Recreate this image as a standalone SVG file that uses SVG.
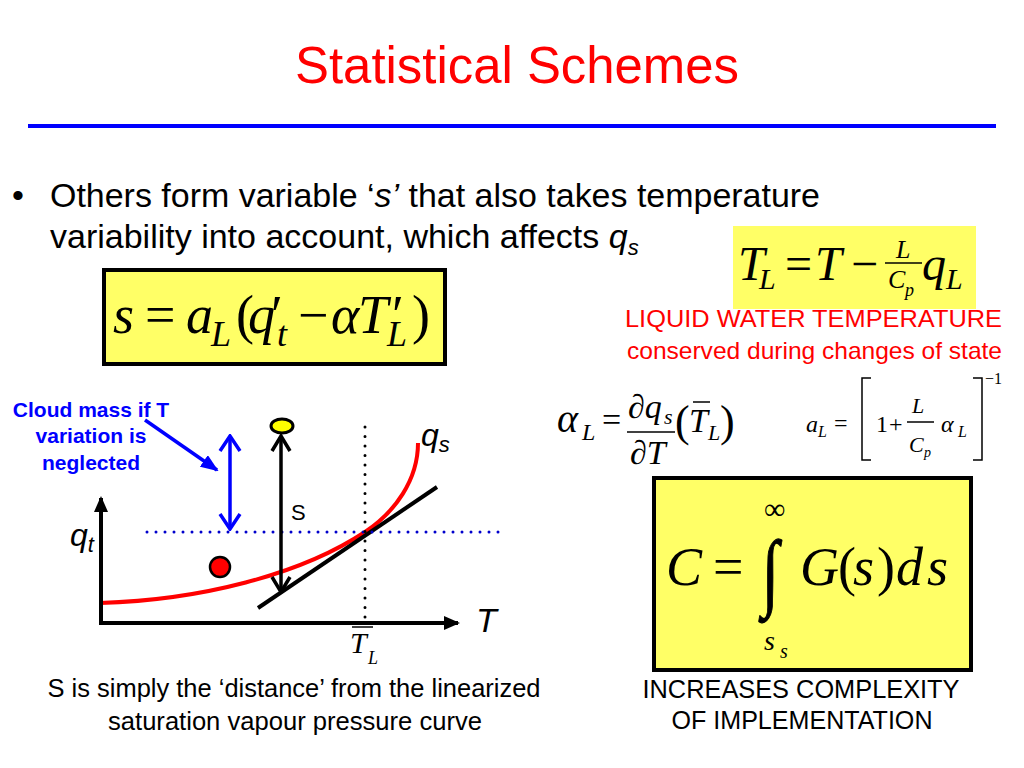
<svg xmlns="http://www.w3.org/2000/svg" width="1024" height="768" viewBox="0 0 1024 768">
<style>
.sans{font-family:"Liberation Sans",Arial,sans-serif}
.mi{font-family:"Liberation Serif","Times New Roman",serif;font-style:italic}
.mn{font-family:"Liberation Serif","Times New Roman",serif}
.n{font-style:normal}
.box{fill:#FFFF66;stroke:#000;stroke-width:4}
.thin{stroke:#000;stroke-width:1.5;fill:none}
</style>
<defs>
<marker id="axis" viewBox="0 0 16 14" refX="14" refY="7" markerWidth="16" markerHeight="14" markerUnits="userSpaceOnUse" orient="auto"><path d="M0,0 L16,7 L0,14 Z" fill="#000"/></marker>
<marker id="vk" viewBox="0 0 18 22" refX="16" refY="11" markerWidth="18" markerHeight="22" markerUnits="userSpaceOnUse" orient="auto-start-reverse"><path d="M1,2 L16,11 L1,20" fill="none" stroke="#000" stroke-width="3.5"/></marker>
<marker id="vb" viewBox="0 0 18 24" refX="16" refY="12" markerWidth="18" markerHeight="24" markerUnits="userSpaceOnUse" orient="auto-start-reverse"><path d="M1,2 L16,12 L1,22" fill="none" stroke="#0000FF" stroke-width="3.5"/></marker>
<marker id="bf" viewBox="0 0 18 14" refX="16" refY="7" markerWidth="18" markerHeight="14" markerUnits="userSpaceOnUse" orient="auto"><path d="M0,0 L18,7 L0,14 Z" fill="#0000FF"/></marker>
</defs>
<rect width="1024" height="768" fill="#fff"/>

<g id="title">
<text class="sans" x="517" y="83" font-size="52" fill="#FF0000" text-anchor="middle" textLength="444" lengthAdjust="spacingAndGlyphs">Statistical Schemes</text>
<line x1="28" y1="126" x2="996" y2="126" stroke="#0000FF" stroke-width="4"/>
</g>

<g id="bullet" class="sans" font-size="34" fill="#000">
<text x="12" y="207">•</text>
<text x="50" y="207" textLength="770" lengthAdjust="spacingAndGlyphs">Others form variable ‘<tspan font-style="italic">s’</tspan> that also takes temperature</text>
<text x="50" y="248">variability into account, which affects <tspan font-style="italic">q</tspan><tspan font-style="italic" font-size="22" dy="7">s</tspan></text>
</g>

<g id="s-equation">
<rect class="box" x="104" y="270" width="341" height="94"/>
<text class="mi" font-size="54"><tspan x="113" y="333">s</tspan><tspan class="n" x="145" y="333">=</tspan><tspan x="186" y="333">a</tspan><tspan x="211" y="346" font-size="36">L</tspan><tspan class="n" x="236" y="333">(</tspan><tspan x="248" y="333">q</tspan><tspan class="n" x="271" y="333">′</tspan><tspan x="277" y="346" font-size="36">t</tspan><tspan class="n" x="298" y="333">−</tspan><tspan x="331" y="333">α</tspan><tspan x="358" y="333">T</tspan><tspan class="n" x="392" y="333">′</tspan><tspan x="387" y="346" font-size="36">L</tspan><tspan class="n" x="412" y="333">)</tspan></text>
</g>

<g id="tl-equation">
<rect x="733" y="226" width="243" height="83" fill="#FFFF66"/>
<text class="mi" font-size="48"><tspan x="738" y="280">T</tspan><tspan x="759" y="289" font-size="30">L</tspan><tspan class="n" x="785" y="280">=</tspan><tspan x="815" y="280">T</tspan><tspan class="n" x="851" y="280">−</tspan><tspan x="896" y="258" font-size="26">L</tspan><tspan x="888" y="288" font-size="26">C</tspan><tspan x="905" y="296" font-size="18">p</tspan><tspan x="922" y="280">q</tspan><tspan x="946" y="289" font-size="30">L</tspan></text>
<line class="thin" x1="885" y1="263" x2="922" y2="263"/>
</g>

<g id="liquid-label" class="sans" fill="#FF0000" font-size="24" text-anchor="end">
<text x="1002" y="327" textLength="377" lengthAdjust="spacingAndGlyphs">LIQUID WATER TEMPERATURE</text>
<text x="1002" y="359" textLength="375" lengthAdjust="spacingAndGlyphs">conserved during changes of state</text>
</g>

<g id="alpha-equation">
<text class="mi" font-size="34"><tspan x="557" y="432" font-size="40">α</tspan><tspan x="582" y="440" font-size="24">L</tspan><tspan class="n" x="602" y="431">=</tspan><tspan x="628" y="418">∂q</tspan><tspan x="664" y="424" font-size="22">s</tspan><tspan x="630" y="464">∂T</tspan><tspan class="n" x="675" y="436" font-size="44">(</tspan><tspan x="689" y="432">T</tspan><tspan x="708" y="440" font-size="22">L</tspan><tspan class="n" x="720" y="436" font-size="44">)</tspan></text>
<line class="thin" x1="627" y1="432" x2="675" y2="432"/>
<line class="thin" x1="693" y1="402" x2="710" y2="402"/>
</g>

<g id="aL-equation">
<text class="mi" font-size="24"><tspan x="806" y="432">a</tspan><tspan x="818" y="437" font-size="16">L</tspan><tspan class="n" x="834" y="431">=</tspan><tspan class="n" x="876" y="432">1</tspan><tspan class="n" x="889" y="432">+</tspan><tspan x="912" y="413" font-size="22">L</tspan><tspan x="909" y="452" font-size="22">C</tspan><tspan x="924" y="457" font-size="14">p</tspan><tspan x="941" y="432">α</tspan><tspan x="958" y="437" font-size="16">L</tspan><tspan class="n" x="985" y="384" font-size="16">−1</tspan></text>
<path class="thin" d="M871,378 H862 V460 H871"/>
<line class="thin" x1="907" y1="422" x2="934" y2="422"/>
<path class="thin" d="M973,378 H982 V460 H973"/>
</g>

<g id="c-equation">
<rect class="box" x="654" y="478" width="317" height="192"/>
<text class="mi" font-size="54"><tspan x="666" y="585">C</tspan><tspan class="n" x="713" y="585">=</tspan><tspan x="800" y="585">G</tspan><tspan class="n" x="838" y="585">(</tspan><tspan x="853" y="585">s</tspan><tspan class="n" x="877" y="585">)</tspan><tspan x="896" y="585">d</tspan><tspan x="927" y="585">s</tspan></text>
<text class="mn" x="762" y="596" font-size="62" stroke="#000" stroke-width="0.8" transform="translate(0,-222) scale(1,1.38)">∫</text>
<text class="mn" x="764" y="519" font-size="30">∞</text>
<text class="mi" font-size="28"><tspan x="764" y="650">s</tspan><tspan x="780" y="658" font-size="20">s</tspan></text>
</g>

<g id="complexity-label" class="sans" font-size="25" fill="#000" text-anchor="middle">
<text x="801" y="698" textLength="317" lengthAdjust="spacingAndGlyphs">INCREASES COMPLEXITY</text>
<text x="802" y="729" textLength="261" lengthAdjust="spacingAndGlyphs">OF IMPLEMENTATION</text>
</g>

<g id="cloud-label" class="sans" font-weight="bold" font-size="21" fill="#0000FF" text-anchor="middle">
<text x="91" y="417">Cloud mass if T</text>
<text x="91" y="443">variation is</text>
<text x="91" y="470">neglected</text>
</g>

<g id="graph">
<path d="M100,603 C200,600 300,575 365,532 C395,512 418,480 418,443" fill="none" stroke="#FF0000" stroke-width="4"/>
<line x1="258" y1="608" x2="437" y2="487" stroke="#000" stroke-width="4"/>
<line x1="147" y1="532" x2="500" y2="532" stroke="#0000CC" stroke-width="3" stroke-dasharray="0 9" stroke-linecap="round"/>
<line x1="365" y1="427" x2="365" y2="618" stroke="#000" stroke-width="3" stroke-dasharray="0 9.5" stroke-linecap="round"/>
<circle cx="220" cy="567" r="10" fill="#FF0000" stroke="#000" stroke-width="2.5"/>
<ellipse cx="282" cy="426" rx="11" ry="7" fill="#FFFF00" stroke="#000" stroke-width="3"/>
<text class="sans" x="291" y="520" font-size="22">S</text>
<text class="sans" x="421" y="446" font-size="32" font-style="italic">q<tspan font-size="22" dy="6">s</tspan></text>
<text class="sans" x="70" y="546" font-size="32" font-style="italic">q<tspan font-size="22" dy="6">t</tspan></text>
<text class="sans" x="476" y="632" font-size="34" font-style="italic">T</text>
<text class="mi" font-size="30"><tspan x="350" y="653">T</tspan><tspan x="368" y="664" font-size="18">L</tspan></text>
<line class="thin" x1="352" y1="627" x2="373" y2="627"/>
</g>

<g id="connectors">
<line x1="101" y1="623" x2="101" y2="498" stroke="#000" stroke-width="4" marker-end="url(#axis)"/>
<line x1="99" y1="623" x2="458" y2="623" stroke="#000" stroke-width="4" marker-end="url(#axis)"/>
<line x1="281" y1="436" x2="281" y2="592" stroke="#000" stroke-width="3.5" marker-start="url(#vk)" marker-end="url(#vk)"/>
<line x1="230" y1="436" x2="230" y2="529" stroke="#0000FF" stroke-width="3.5" marker-start="url(#vb)" marker-end="url(#vb)"/>
<line x1="145" y1="420" x2="217" y2="470" stroke="#0000FF" stroke-width="3.5" marker-end="url(#bf)"/>
</g>

<g id="caption" class="sans" font-size="26" fill="#000" text-anchor="middle">
<text x="294" y="697" textLength="493" lengthAdjust="spacingAndGlyphs">S is simply the ‘distance’ from the linearized</text>
<text x="295" y="730" textLength="374" lengthAdjust="spacingAndGlyphs">saturation vapour pressure curve</text>
</g>
</svg>
